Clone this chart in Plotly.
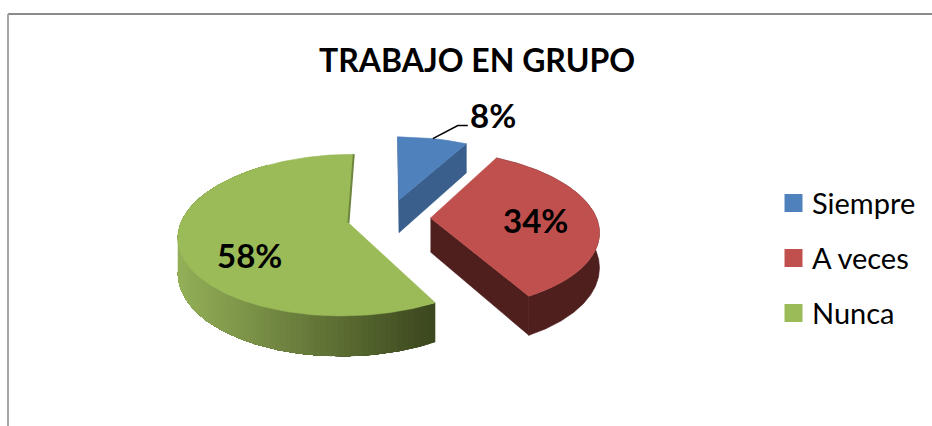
import numpy as np
import plotly.graph_objects as go

CATEGORIES = ["Siempre", "A veces", "Nunca"]
SHARES = [8, 34, 58]
TITLE = "TRABAJO EN GRUPO"

TOP_COLORS = ["#4f81bd", "#c0504d", "#9bbb59"]
SIDE_COLORS = ["#3a5f8c", "#4f1f1e", "#6f8640"]
GREEN_LIGHT = np.array([148, 176, 88])
GREEN_DARK = np.array([60, 72, 30])

# the page is drawn in pixels, the pie sits on a tilted plane
CENTER_X, CENTER_Y = 389, 218
RADIUS_X, RADIUS_Y = 166, 77.5
PERSPECTIVE = 0.15
EXPLODE = 0.25
DEPTH = 34


def project(u, v):
    """ Disc coordinates (radius 1, v pointing back) to page pixels, plus the local scale. """
    scale = 1 / (1 + PERSPECTIVE * v)
    return CENTER_X + RADIUS_X * u * scale, CENTER_Y - RADIUS_Y * v * scale, scale


def slice_outline(start, end):
    """ Returns apex and arc of an exploded slice, angles in degrees clockwise from 12 o'clock. """
    mid = np.radians((start + end) / 2)
    apex_u, apex_v = EXPLODE * np.sin(mid), EXPLODE * np.cos(mid)
    angles = np.radians(np.linspace(start, end, 240))
    arc = project(apex_u + np.sin(angles), apex_v + np.cos(angles))
    apex = project(apex_u, apex_v)
    return apex, arc


def polygon(x, y, color, width=0.6):
    return go.Scatter(
        x=x, y=y, mode="lines", fill="toself", fillcolor=color,
        line=dict(color=color, width=width), hoverinfo="skip", showlegend=False
    )


def side_strip(arc, color, width=0.6):
    x, y, scale = arc
    return polygon(
        np.concatenate([x, x[::-1]]),
        np.concatenate([y, (y + DEPTH * scale)[::-1]]),
        color, width
    )


def cut_face(apex, arc, index, color):
    xs = [apex[0], arc[0][index], arc[0][index], apex[0]]
    ys = [apex[1], arc[1][index], arc[1][index] + DEPTH * arc[2][index], apex[1] + DEPTH * apex[2]]
    return polygon(xs, ys, color)


def green_side(arc):
    """ Side of the big slice, shaded from right to left so each strip covers the seam of the last. """
    x, y, scale = arc
    traces = []
    visible = np.where(y > CENTER_Y - 10)[0]
    visible = visible[visible < 200]
    for i in visible[::2]:
        t = np.clip((x[i] - 178) / (433 - 178), 0, 1)
        rgb = (1 - t) * GREEN_LIGHT + t * GREEN_DARK
        color = "rgb({:.0f},{:.0f},{:.0f})".format(*rgb)
        # each strip runs from its own point to the left end, later ones overpaint it
        strip = (x[i:200], y[i:200], scale[i:200])
        traces.append(side_strip(strip, color, 0))
    return traces


edges = np.cumsum([0] + SHARES) / sum(SHARES) * 360
outlines = [slice_outline(edges[i], edges[i + 1]) for i in range(len(SHARES))]

traces = []
(blue_apex, blue_arc), (red_apex, red_arc), (green_apex, green_arc) = outlines

traces.append(cut_face(blue_apex, blue_arc, 0, SIDE_COLORS[0]))
traces.append(cut_face(blue_apex, blue_arc, -1, SIDE_COLORS[0]))
traces.append(side_strip(red_arc, SIDE_COLORS[1]))
traces.append(cut_face(red_apex, red_arc, -1, SIDE_COLORS[1]))
traces.extend(green_side(green_arc))

for (apex, arc), color in zip(outlines, TOP_COLORS):
    traces.append(polygon(
        np.concatenate([[apex[0]], arc[0], [apex[0]]]),
        np.concatenate([[apex[1]], arc[1], [apex[1]]]),
        color
    ))

# thin dark rim along the straight edge of the big slice
traces.append(go.Scatter(
    x=[green_apex[0], green_arc[0][-1]], y=[green_apex[1], green_arc[1][-1]],
    mode="lines", line=dict(color=SIDE_COLORS[2], width=2),
    hoverinfo="skip", showlegend=False
))

# leader line of the small slice
leader_x = blue_arc[0][120]
leader_y = blue_arc[1][120]
traces.append(go.Scatter(
    x=[leader_x, leader_x + 25, leader_x + 35], y=[leader_y, leader_y - 13, leader_y - 13],
    mode="lines", line=dict(color="black", width=1.5),
    hoverinfo="skip", showlegend=False
))

# legend keys
LEGEND_X = 793.5
LEGEND_Y = [203, 258, 313]
traces.append(go.Scatter(
    x=[LEGEND_X] * 3, y=LEGEND_Y, mode="markers",
    marker=dict(symbol="square", size=18, color=TOP_COLORS, line=dict(width=0)),
    hoverinfo="skip", showlegend=False
))

fig = go.Figure(data=traces)

annotations = [
    dict(x=477, y=59, text=f"<b>{TITLE}</b>", font=dict(size=32)),
]
LABEL_POSITIONS = [(493, 115), (535, 220), (249, 255)]
for share, (x, y) in zip(SHARES, LABEL_POSITIONS):
    annotations.append(dict(x=x, y=y, text=f"<b>{share}%</b>", font=dict(size=33)))
for name, y in zip(CATEGORIES, [y - 1 for y in LEGEND_Y]):
    annotations.append(dict(x=809.5, y=y, text=name, xanchor="left", font=dict(size=29)))
for a in annotations:
    a.update(xref="x", yref="y", showarrow=False)
    a.setdefault("xanchor", "center")
    a["yanchor"] = "middle"
    a["font"].update(family="Lato", color="black")

fig.update_layout(
    width=932, height=426,
    margin=dict(l=0, r=0, t=0, b=0),
    paper_bgcolor="white", plot_bgcolor="white",
    showlegend=False,
    annotations=annotations,
    xaxis=dict(range=[0, 932], visible=False, fixedrange=True),
    yaxis=dict(range=[426, 0], visible=False, fixedrange=True),
    shapes=[
        dict(type="line", x0=8, x1=932, y0=14, y1=14, line=dict(color="#8c8c8c", width=2)),
        dict(type="line", x0=8, x1=8, y0=14, y1=426, line=dict(color="#a6a6a6", width=2)),
    ],
)

fig.write_html(
    "out.html",
    config={"displayModeBar": False},
    post_script="document.body.style.margin='0';document.body.style.overflow='hidden';",
)
